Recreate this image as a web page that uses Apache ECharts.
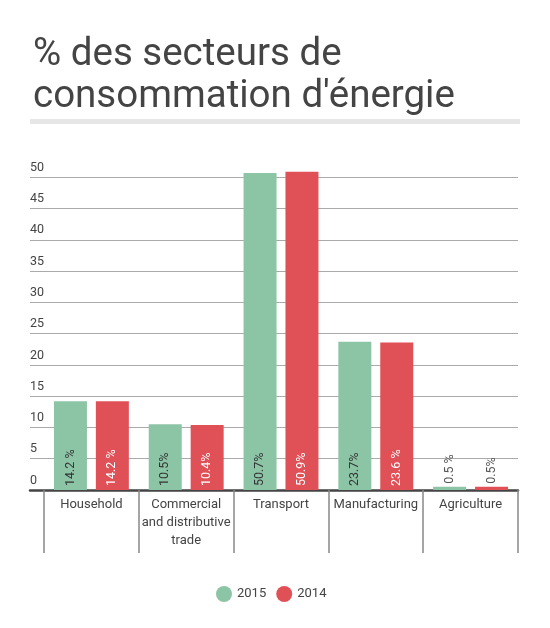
<!DOCTYPE html>
<html>
<head>
<meta charset="utf-8">
<script src="https://cdn.jsdelivr.net/npm/echarts@6/dist/echarts.min.js"></script>
<style>
  html, body { margin: 0; padding: 0; background: #fff; }
  #chart { width: 550px; height: 628px; }
</style>
</head>
<body>
<div id="chart"></div>
<script>
    // données
    var categories = ['Household', 'Commercial\nand distributive\ntrade', 'Transport', 'Manufacturing', 'Agriculture'];
    var values2015 = [14.2, 10.5, 50.7, 23.7, 0.5];
    var values2014 = [14.2, 10.4, 50.9, 23.6, 0.5];
    var labels2015 = ['14.2 %', '10.5%', '50.7%', '23.7%', '0.5 %'];
    var labels2014 = ['14.2 %', '10.4%', '50.9%', '23.6 %', '0.5%'];
    var yTicks = [0, 5, 10, 15, 20, 25, 30, 35, 40, 45, 50];

    var font = 'Roboto';
    var green = '#8cc4a6';
    var red = '#df5157';

    function buildData(values, insideColor) {
        return values.map(function(v) {
            var item = { value: v };
            if (v < 3) {
                item.label = { position: 'top', distance: 3, color: '#555' };
            } else {
                item.label = { color: insideColor };
            }
            return item;
        });
    }

    var chart = echarts.init(document.getElementById('chart'));
    var yMax = 55;

    var option = {
        animation: false,
        title: {
            text: '% des secteurs de\nconsommation d\'énergie',
            left: 28,
            top: 29,
            textStyle: {
                fontFamily: font,
                fontSize: 38.5,
                lineHeight: 42,
                fontWeight: 'normal',
                color: '#444'
            }
        },
        graphic: [{
            type: 'rect',
            shape: { x: 30, y: 119, width: 490, height: 5 },
            style: { fill: '#e6e6e6' },
            silent: true
        }],
        legend: {
            data: ['2015', '2014'],
            left: 211,
            top: 581,
            icon: 'circle',
            itemWidth: 16,
            itemHeight: 16,
            itemGap: 10,
            textStyle: { fontFamily: font, fontSize: 13, color: '#444' }
        },
        grid: [
            { left: 30, right: 32, top: 146, bottom: 138 },
            { left: 44, right: 32, top: 146, bottom: 138 }
        ],
        xAxis: [{
            gridIndex: 0,
            type: 'category',
            data: [''],
            axisLine: { show: true, lineStyle: { color: '#444', width: 2.5 } },
            axisTick: { show: false },
            axisLabel: { show: false }
        }, {
            gridIndex: 1,
            type: 'category',
            data: categories,
            axisLine: { show: false },
            axisTick: {
                show: true,
                length: 63,
                lineStyle: { color: '#888', width: 1.5 }
            },
            axisLabel: {
                interval: 0,
                margin: 6,
                fontFamily: font,
                fontSize: 13,
                lineHeight: 18,
                color: '#444'
            }
        }],
        yAxis: [{
            gridIndex: 0,
            type: 'value',
            min: 0,
            max: yMax,
            interval: 5,
            axisLine: { show: false },
            axisTick: { show: false },
            splitLine: {
                show: true,
                showMaxLine: false,
                lineStyle: { color: '#aaa', width: 1 }
            },
            axisLabel: {
                inside: true,
                margin: 0,
                align: 'left',
                verticalAlign: 'bottom',
                padding: [0, 0, 3, 0],
                fontFamily: font,
                fontSize: 12.5,
                color: '#444',
                showMaxLabel: false,
                formatter: function(v) {
                    return yTicks.indexOf(v) >= 0 ? String(v) : '';
                }
            }
        }, {
            gridIndex: 1,
            type: 'value',
            min: 0,
            max: yMax,
            interval: 5,
            show: false,
            splitLine: { show: false }
        }],
        series: [{
            name: '2015',
            type: 'bar',
            xAxisIndex: 1,
            yAxisIndex: 1,
            barWidth: 33,
            barGap: '27%',
            itemStyle: { color: green },
            label: {
                show: true,
                position: 'insideBottom',
                distance: 4,
                rotate: 90,
                align: 'left',
                verticalAlign: 'middle',
                fontFamily: font,
                fontSize: 12.5,
                formatter: function(p) { return labels2015[p.dataIndex]; }
            },
            data: buildData(values2015, '#333')
        }, {
            name: '2014',
            type: 'bar',
            xAxisIndex: 1,
            yAxisIndex: 1,
            barWidth: 33,
            barGap: '27%',
            itemStyle: { color: red },
            label: {
                show: true,
                position: 'insideBottom',
                distance: 4,
                rotate: 90,
                align: 'left',
                verticalAlign: 'middle',
                fontFamily: font,
                fontSize: 12.5,
                formatter: function(p) { return labels2014[p.dataIndex]; }
            },
            data: buildData(values2014, '#fff')
        }]
    };

    chart.setOption(option);
</script>
</body>
</html>
